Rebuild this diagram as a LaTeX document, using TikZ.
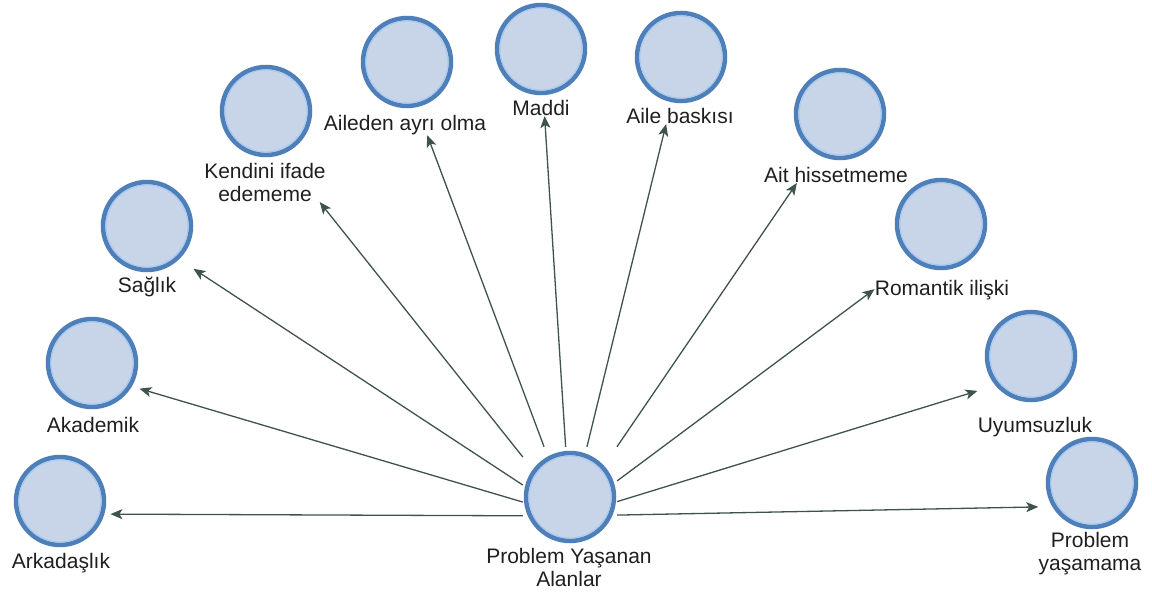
\documentclass[tikz,border=0pt]{standalone}
\usepackage{fontspec}
\setmainfont{Liberation Sans}
\usetikzlibrary{arrows.meta,fit}
\definecolor{ringblue}{HTML}{4E7FB8}
\definecolor{discfill}{HTML}{C8D5E8}
\definecolor{halo}{HTML}{A9CBF2}
\definecolor{linkgray}{HTML}{3E534C}
\begin{document}
\begin{tikzpicture}[x=1pt,y=-1pt,
  disc/.style={circle, draw=ringblue, fill=discfill, line width=4.5pt,
    minimum size=88pt, inner sep=0pt},
  tag/.style={anchor=north, inner sep=0pt, align=center,
    font=\fontsize{21}{23}\selectfont, text=black!88},
  grp/.style={inner sep=0pt, draw=none},
  hubbox/.style={rectangle, inner sep=0pt, draw=none,
    minimum width=94pt, minimum height=138pt},
  link/.style={draw=linkgray, line width=1.3pt,
    -{Stealth[length=12pt,width=10pt,inset=3pt]}}]
\useasboundingbox (0,0) rectangle (1152,596);

% central topic
\node[disc] (c0) at (570,497) {};
\node[tag]  (t0) at (569,548) {Problem Yaşanan\\Alanlar};
\node[hubbox] (hub) at (570,516) {};

% problem areas, left to right
\node[disc] (c1)  at (60,501)   {};
\node[tag]  (t1)  at (61,553)   {Arkadaşlık};
\node[disc] (c2)  at (92,363)   {};
\node[tag]  (t2)  at (93,417)   {Akademik};
\node[disc] (c3)  at (147,226)  {};
\node[tag]  (t3)  at (147,277)  {Sağlık};
\node[disc] (c4)  at (266,111)  {};
\node[tag]  (t4)  at (265,163)  {Kendini ifade\\edememe};
\node[disc] (c5)  at (407,62)   {};
\node[tag]  (t5)  at (405,115)  {Aileden ayrı olma};
\node[disc] (c6)  at (541,49)   {};
\node[tag]  (t6)  at (541,100)  {Maddi};
\node[disc] (c7)  at (681,57)   {};
\node[tag]  (t7)  at (680,108)  {Aile baskısı};
\node[disc] (c8)  at (840,114)  {};
\node[tag]  (t8)  at (836,167)  {Ait hissetmeme};
\node[disc] (c9)  at (941,224)  {};
\node[tag]  (t9)  at (942,280)  {Romantik ilişki};
\node[disc] (c10) at (1031,356) {};
\node[tag]  (t10) at (1035,417) {Uyumsuzluk};
\node[disc] (c11) at (1092,483) {};
\node[tag]  (t11) at (1090,532) {Problem\\yaşamama};

% light inner rim of every disc
\foreach \n in {c0,c1,c2,c3,c4,c5,c6,c7,c8,c9,c10,c11}
  \draw[halo, line width=1.2pt] (\n.center) circle (41pt);

% each disc with its caption forms one target box
\foreach \i in {1,...,11}
  \node[grp, fit=(c\i)(t\i)] (g\i) {};

% connectors from the central topic
\foreach \i in {1,...,11}
  \draw[link] (hub) -- (g\i);
\end{tikzpicture}
\end{document}
